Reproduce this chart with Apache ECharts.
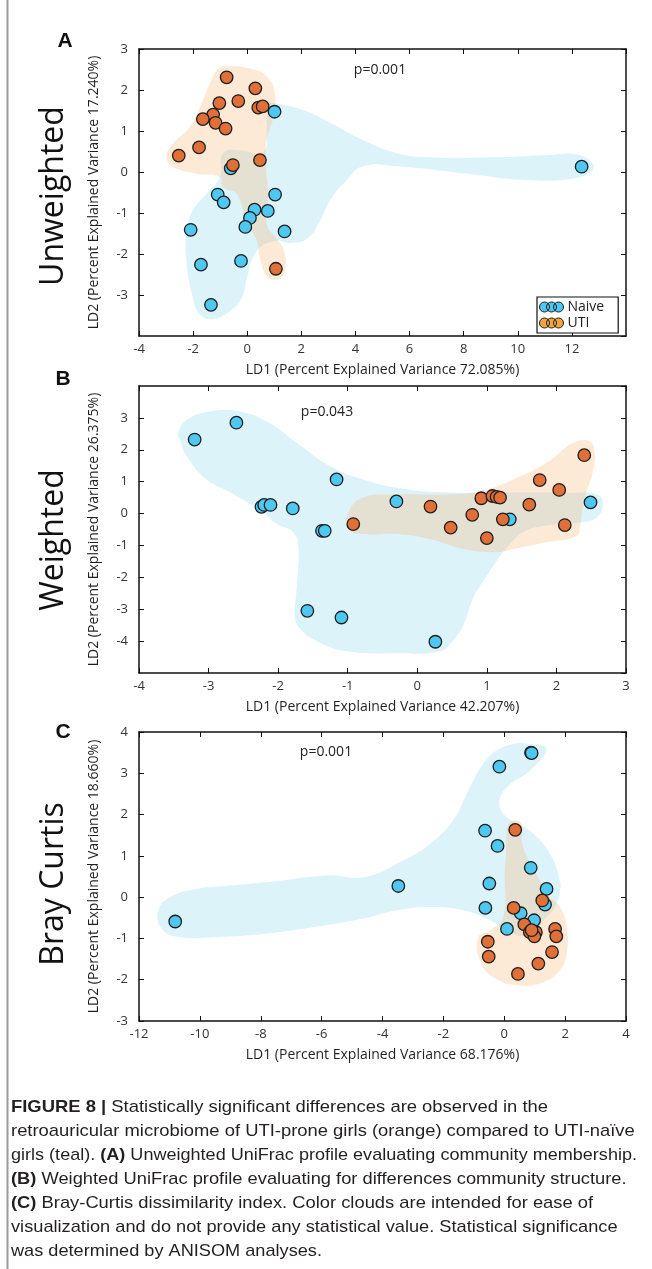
<!DOCTYPE html>
<html><head><meta charset="utf-8">
<script src="https://cdn.jsdelivr.net/npm/echarts@6/dist/echarts.min.js"></script>
<style>html,body{margin:0;padding:0;background:#fff}#c{width:652px;height:1269px}</style>
</head><body><div id="c"></div>
<script>
// ---------- DATA ----------
const seriesNames = ['Naive', 'UTI'];
const panelLetters = ['A', 'B', 'C'];
const panelTitles = ['Unweighted', 'Weighted', 'Bray Curtis'];
const pValues = ['p=0.001', 'p=0.043', 'p=0.001'];
const xTitles = ['LD1 (Percent Explained Variance 72.085%)', 'LD1 (Percent Explained Variance 42.207%)', 'LD1 (Percent Explained Variance 68.176%)'];
const yTitles = ['LD2 (Percent Explained Variance 17.240%)', 'LD2 (Percent Explained Variance 26.375%)', 'LD2 (Percent Explained Variance 18.660%)'];

// Panel A (Unweighted UniFrac)
const naiveA = [[1.01,1.47],[12.36,0.13],[-0.61,0.09],[-1.09,-0.55],[1.03,-0.55],[-0.87,-0.74],[0.27,-0.92],[0.76,-0.95],[0.10,-1.12],[-2.09,-1.41],[-0.07,-1.34],[1.38,-1.45],[-0.23,-2.17],[-1.71,-2.26],[-1.34,-3.24]];
const utiA = [[-0.76,2.31],[0.30,2.04],[-1.03,1.68],[-0.33,1.73],[0.41,1.57],[0.57,1.60],[-1.26,1.40],[-1.64,1.29],[-1.17,1.20],[-0.80,1.06],[-1.78,0.60],[-2.53,0.40],[0.47,0.29],[-0.53,0.17],[1.06,-2.36]];
// Panel B (Weighted UniFrac)
const naiveB = [[-3.20,2.32],[-2.60,2.85],[-1.16,1.07],[-2.24,0.21],[-2.20,0.27],[-2.11,0.27],[-1.79,0.16],[-0.30,0.38],[1.33,-0.18],[2.49,0.35],[-1.37,-0.54],[-1.33,-0.54],[-1.58,-3.05],[-1.09,-3.26],[0.26,-4.02]];
const utiB = [[2.40,1.83],[1.76,1.05],[2.04,0.74],[0.92,0.48],[1.08,0.55],[1.14,0.52],[1.19,0.50],[0.19,0.22],[1.61,0.28],[0.79,-0.04],[1.23,-0.18],[-0.92,-0.33],[0.48,-0.44],[2.12,-0.36],[1.00,-0.77]];
// Panel C (Bray Curtis)
const naiveC = [[0.88,3.50],[0.90,3.49],[-0.16,3.16],[-0.63,1.61],[-0.22,1.24],[0.87,0.71],[-3.48,0.27],[-0.49,0.33],[1.39,0.20],[-10.81,-0.59],[-0.62,-0.26],[1.34,-0.18],[0.54,-0.39],[0.98,-0.56],[0.09,-0.77]];
const utiC = [[0.36,1.63],[1.25,-0.08],[0.31,-0.26],[0.66,-0.66],[0.84,-0.85],[1.04,-0.85],[0.99,-0.95],[0.90,-0.80],[1.67,-0.77],[1.71,-0.95],[-0.54,-1.08],[-0.51,-1.44],[1.57,-1.33],[1.12,-1.61],[0.45,-1.86]];

// Color-cloud outlines (data coordinates)
const cloudNaiveA = [[0.95,1.69],[2.06,1.51],[3.06,1.20],[4.27,0.78],[5.53,0.46],[6.74,0.36],[9.22,0.36],[11.07,0.41],[12.29,0.41],[12.81,0.12],[12.29,-0.13],[10.44,-0.20],[7.97,-0.03],[5.53,0.14],[4.27,0.14],[3.68,-0.20],[3.06,-0.69],[2.69,-1.19],[2.21,-1.63],[1.58,-1.73],[1.02,-1.68],[0.36,-1.92],[-0.01,-2.58],[-0.20,-3.07],[-0.64,-3.39],[-1.27,-3.59],[-1.75,-3.47],[-2.04,-2.98],[-2.26,-2.09],[-2.23,-1.43],[-2.01,-0.94],[-1.49,-0.52],[-1.01,-0.13],[-0.90,0.46],[-0.27,0.53],[0.58,0.46],[0.73,1.20],[0.73,1.69]];
const cloudUtiA = [[-0.64,2.58],[-0.02,2.54],[0.72,2.33],[1.02,1.92],[0.96,1.35],[0.72,0.78],[0.69,0.12],[0.78,-0.53],[0.72,-1.27],[1.09,-1.63],[1.36,-1.92],[1.39,-2.41],[1.15,-2.62],[0.72,-2.53],[0.47,-2.09],[0.35,-1.68],[-0.08,-1.10],[-0.39,-0.53],[-0.89,-0.37],[-1.01,-0.12],[-1.87,-0.04],[-2.73,0.12],[-2.98,0.37],[-2.73,0.70],[-2.12,1.10],[-1.63,1.76],[-1.26,2.33],[-1.01,2.54]];
const cloudNaiveB = [[-3.44,2.52],[-3.31,2.94],[-2.98,3.20],[-2.55,3.20],[-2.12,2.83],[-1.73,2.21],[-1.25,1.48],[-0.78,1.07],[-0.15,0.76],[0.47,0.66],[1.48,0.66],[2.29,0.65],[2.58,0.60],[2.67,0.34],[2.58,-0.12],[2.34,-0.28],[1.91,-0.36],[1.55,-0.55],[1.33,-0.96],[1.19,-1.33],[1.00,-1.95],[0.80,-2.67],[0.66,-3.51],[0.50,-4.01],[0.33,-4.32],[-0.29,-4.38],[-1.01,-4.32],[-1.44,-4.01],[-1.69,-3.60],[-1.76,-3.20],[-1.73,-2.26],[-1.71,-1.02],[-1.79,-0.58],[-2.02,-0.33],[-2.22,0.04],[-2.69,0.67],[-3.03,1.07],[-3.31,1.79],[-3.41,2.30]];
const cloudUtiB = [[-0.99,0.03],[-0.78,0.50],[-0.30,0.60],[0.42,0.60],[0.90,0.70],[1.38,1.07],[1.86,1.59],[2.24,2.21],[2.48,2.26],[2.55,1.90],[2.53,1.38],[2.39,0.34],[2.34,-0.39],[2.29,-0.70],[1.86,-0.90],[1.38,-1.11],[1.14,-1.21],[0.66,-1.11],[0.18,-0.80],[-0.30,-0.64],[-0.78,-0.64],[-0.99,-0.49]];
const cloudNaiveC = [[0.84,3.71],[1.39,3.59],[0.84,3.07],[0.08,2.66],[-0.16,2.26],[0.08,1.94],[0.84,1.61],[1.50,1.05],[1.83,0.40],[1.83,0.16],[1.67,-0.24],[1.39,-0.48],[0.84,-0.89],[0.30,-0.89],[-0.47,-0.56],[-1.35,-0.32],[-2.44,-0.24],[-3.53,-0.32],[-4.63,-0.52],[-6.27,-0.73],[-7.92,-0.89],[-9.56,-0.97],[-10.65,-0.97],[-11.25,-0.77],[-11.37,-0.32],[-10.98,0.00],[-10.11,0.20],[-9.01,0.28],[-7.37,0.40],[-5.73,0.53],[-4.63,0.48],[-3.32,0.89],[-2.44,1.29],[-1.68,1.86],[-1.13,2.66],[-0.69,3.23],[-0.25,3.55],[0.30,3.71]];
const cloudUtiC = [[0.35,1.86],[0.57,1.78],[0.62,1.21],[1.17,0.40],[1.39,0.08],[1.83,-0.24],[2.05,-0.73],[2.05,-1.37],[1.83,-1.77],[1.28,-2.06],[0.52,-2.14],[-0.36,-1.94],[-0.80,-1.53],[-0.85,-0.97],[-0.47,-0.81],[-0.03,-0.48],[0.02,0.65],[0.06,1.05],[0.08,1.61],[0.19,1.82]];

// Axis ranges [min, max, interval]
const xRanges = [[-4, 14, 2], [-4, 3, 1], [-12, 4, 2]];
const yRanges = [[-4, 3, 1], [-5, 4, 1], [-3, 4, 1]];

const captionLines = [
  [['b','FIGURE 8 |'],['n',' Statistically significant differences are observed in the']],
  [['n','retroauricular microbiome of UTI-prone girls (orange) compared to UTI-naïve']],
  [['n','girls (teal). '],['b','(A)'],['n',' Unweighted UniFrac profile evaluating community membership.']],
  [['b','(B)'],['n',' Weighted UniFrac profile evaluating for differences community structure.']],
  [['b','(C)'],['n',' Bray-Curtis dissimilarity index. Color clouds are intended for ease of']],
  [['n','visualization and do not provide any statistical value. Statistical significance']],
  [['n','was determined by ANISOM analyses.']]
];

// ---------- STYLE / LAYOUT ----------
const FONT = '"Open Sans", "Noto Sans", sans-serif';
const BLUE = '#4ec8f0', ORANGE = '#e07038', ORANGE_LEG = '#f5a33c';
const CLOUD_BLUE = '#ddf3fa', CLOUD_ORANGE = 'rgba(246,188,128,0.32)';
const grids = [
  {left: 139, top: 49, width: 487, height: 287},
  {left: 139, top: 386, width: 487, height: 287},
  {left: 139, top: 732, width: 487, height: 289}
];
const showX = [[true, false], [true, true], [true, true]]; // showMinLabel, showMaxLabel
const showY = [[false, true], [false, false], [true, true]];

const naiveSets = [naiveA, naiveB, naiveC];
const utiSets = [utiA, utiB, utiC];
const cloudN = [cloudNaiveA, cloudNaiveB, cloudNaiveC];
const cloudU = [cloudUtiA, cloudUtiB, cloudUtiC];

const axisLine = {show: true, onZero: false, lineStyle: {color: '#111', width: 1.5}};
const tick = {show: true, inside: true, length: 5, lineStyle: {color: '#111', width: 1}};

const xAxis = [], yAxis = [], series = [];
grids.forEach((g, i) => {
  const [xmin, xmax, xi] = xRanges[i], [ymin, ymax, yi] = yRanges[i];
  xAxis.push({type: 'value', gridIndex: i, min: xmin, max: xmax, interval: xi, position: 'bottom',
    axisLine, axisTick: tick, splitLine: {show: false},
    axisLabel: {color: '#333', fontSize: 13, fontFamily: FONT, margin: 7, showMinLabel: showX[i][0], showMaxLabel: showX[i][1]},
    name: xTitles[i], nameLocation: 'middle', nameGap: 27,
    nameTextStyle: {color: '#231f20', fontSize: 14, fontFamily: FONT}});
  xAxis.push({type: 'value', gridIndex: i, min: xmin, max: xmax, interval: xi, position: 'top',
    axisLine, axisTick: tick, splitLine: {show: false}, axisLabel: {show: false}});
  yAxis.push({type: 'value', gridIndex: i, min: ymin, max: ymax, interval: yi, position: 'left',
    axisLine, axisTick: tick, splitLine: {show: false},
    axisLabel: {color: '#333', fontSize: 13, fontFamily: FONT, margin: 11, showMinLabel: showY[i][0], showMaxLabel: showY[i][1]},
    name: yTitles[i], nameLocation: 'middle', nameGap: 38,
    nameTextStyle: {color: '#231f20', fontSize: 14, fontFamily: FONT}});
  yAxis.push({type: 'value', gridIndex: i, min: ymin, max: ymax, interval: yi, position: 'right',
    axisLine, axisTick: tick, splitLine: {show: false}, axisLabel: {show: false}});

  const cloud = (pts, fill, z) => ({
    type: 'custom', xAxisIndex: 2 * i, yAxisIndex: 2 * i, silent: true, z,
    data: [0],
    renderItem: (params, api) => ({
      type: 'polygon',
      shape: {points: pts.map(p => api.coord(p)), smooth: 0.45},
      style: {fill}
    })
  });
  series.push(cloud(cloudN[i], CLOUD_BLUE, 1));
  series.push(cloud(cloudU[i], CLOUD_ORANGE, 1));
  const sc = (name, data, color) => ({
    type: 'scatter', name, xAxisIndex: 2 * i, yAxisIndex: 2 * i, data, z: 3,
    symbol: 'circle', symbolSize: 12.5,
    itemStyle: {color, opacity: 1, borderColor: '#1e1e1e', borderWidth: 1.3},
    emphasis: {disabled: true}
  });
  series.push(sc(seriesNames[0], naiveSets[i], BLUE));
  series.push(sc(seriesNames[1], utiSets[i], ORANGE));
});

// Graphics: panel letters, row titles, p-values, caption, left rule
const graphic = [];
graphic.push({type: 'line', shape: {x1: 7.5, y1: 0, x2: 7.5, y2: 1269}, style: {stroke: '#9a9a9a', lineWidth: 2}, silent: true});
const letterPos = [[65, 41], [63, 379], [63, 732]];
const titlePos = [[54, 196], [54, 540], [54, 884]];
const pPos = [[380, 70], [327, 412], [326, 752]];
for (let i = 0; i < 3; i++) {
  graphic.push({type: 'text', x: letterPos[i][0], y: letterPos[i][1], silent: true,
    style: {text: panelLetters[i], font: 'bold 21px "Liberation Sans", Arial, sans-serif', fill: '#111', align: 'center', verticalAlign: 'middle'}});
  graphic.push({type: 'text', x: titlePos[i][0], y: titlePos[i][1], rotation: Math.PI / 2, silent: true,
    style: {text: panelTitles[i], font: '32px ' + FONT, fill: '#111', align: 'center', verticalAlign: 'middle'}});
  graphic.push({type: 'text', x: pPos[i][0], y: pPos[i][1], silent: true,
    style: {text: pValues[i], font: '14px ' + FONT, fill: '#222', align: 'center', verticalAlign: 'middle'}});
}
// caption: each line is horizontally fitted so that a given prefix ends where it does in the reference
const CAP_FONT = '"Liberation Sans", Arial, sans-serif';
const CAP_SIZE = 17;
const capCalib = [['FIGURE 8 | Statistically significant diffe', 330], ['retroauricular microbiome of UTI-prone', 328],
  ['girls (teal). (A) Unweighted UniFrac prof', 330], ['(B) Weighted UniFrac profile evaluating', 331],
  ['(C) Bray-Curtis dissimilarity index. Colo', 330], ['visualization and do not provide any sta', 330],
  ['was determined by ANISOM analyses.', 322]];
const mctx = document.createElement('canvas').getContext('2d');
function measurePrefix(segs, n) {
  let w = 0, left = n;
  for (const [t, s] of segs) {
    if (left <= 0) break;
    const part = s.slice(0, left);
    mctx.font = (t === 'b' ? 'bold ' : '') + CAP_SIZE + 'px ' + CAP_FONT;
    w += mctx.measureText(part).width;
    left -= part.length;
  }
  return w;
}
captionLines.forEach((segs, k) => {
  const [pre, xEnd] = capCalib[k];
  const sx = (xEnd - 11) / measurePrefix(segs, pre.length);
  graphic.push({type: 'text', x: 11, y: 1107 + k * 24, scaleX: sx, silent: true,
    style: {
      text: segs.map(([t, s]) => '{' + t + '|' + s + '}').join(''),
      rich: {
        b: {fontFamily: CAP_FONT, fontSize: CAP_SIZE, fontWeight: 'bold', fill: '#231f20'},
        n: {fontFamily: CAP_FONT, fontSize: CAP_SIZE, fill: '#231f20'}
      },
      verticalAlign: 'middle'
    }});
});

const legendIcon = 'path://M0,5a5,5 0 1,0 10,0a5,5 0 1,0 -10,0Z M7,5a5,5 0 1,0 10,0a5,5 0 1,0 -10,0Z M14,5a5,5 0 1,0 10,0a5,5 0 1,0 -10,0Z';

const chart = echarts.init(document.getElementById('c'), null, {renderer: 'canvas'});
chart.setOption({
  animation: false,
  backgroundColor: '#fff',
  grid: grids.map(g => Object.assign({outerBoundsMode: 'none', containLabel: false}, g)),
  xAxis, yAxis, series, graphic,
  legend: {
    left: 537, top: 297, orient: 'vertical', icon: legendIcon,
    itemWidth: 24, itemHeight: 11, itemGap: 2,
    padding: [3, 14, 3, 2], borderColor: '#111', borderWidth: 1.2, backgroundColor: '#fff',
    selectedMode: false,
    textStyle: {fontFamily: FONT, fontSize: 14, color: '#222', padding: [0, 0, 0, -1]},
    data: [
      {name: 'Naive', itemStyle: {color: BLUE, borderColor: '#1e1e1e', borderWidth: 1}},
      {name: 'UTI', itemStyle: {color: ORANGE_LEG, borderColor: '#1e1e1e', borderWidth: 1}}
    ]
  }
});
</script></body></html>
